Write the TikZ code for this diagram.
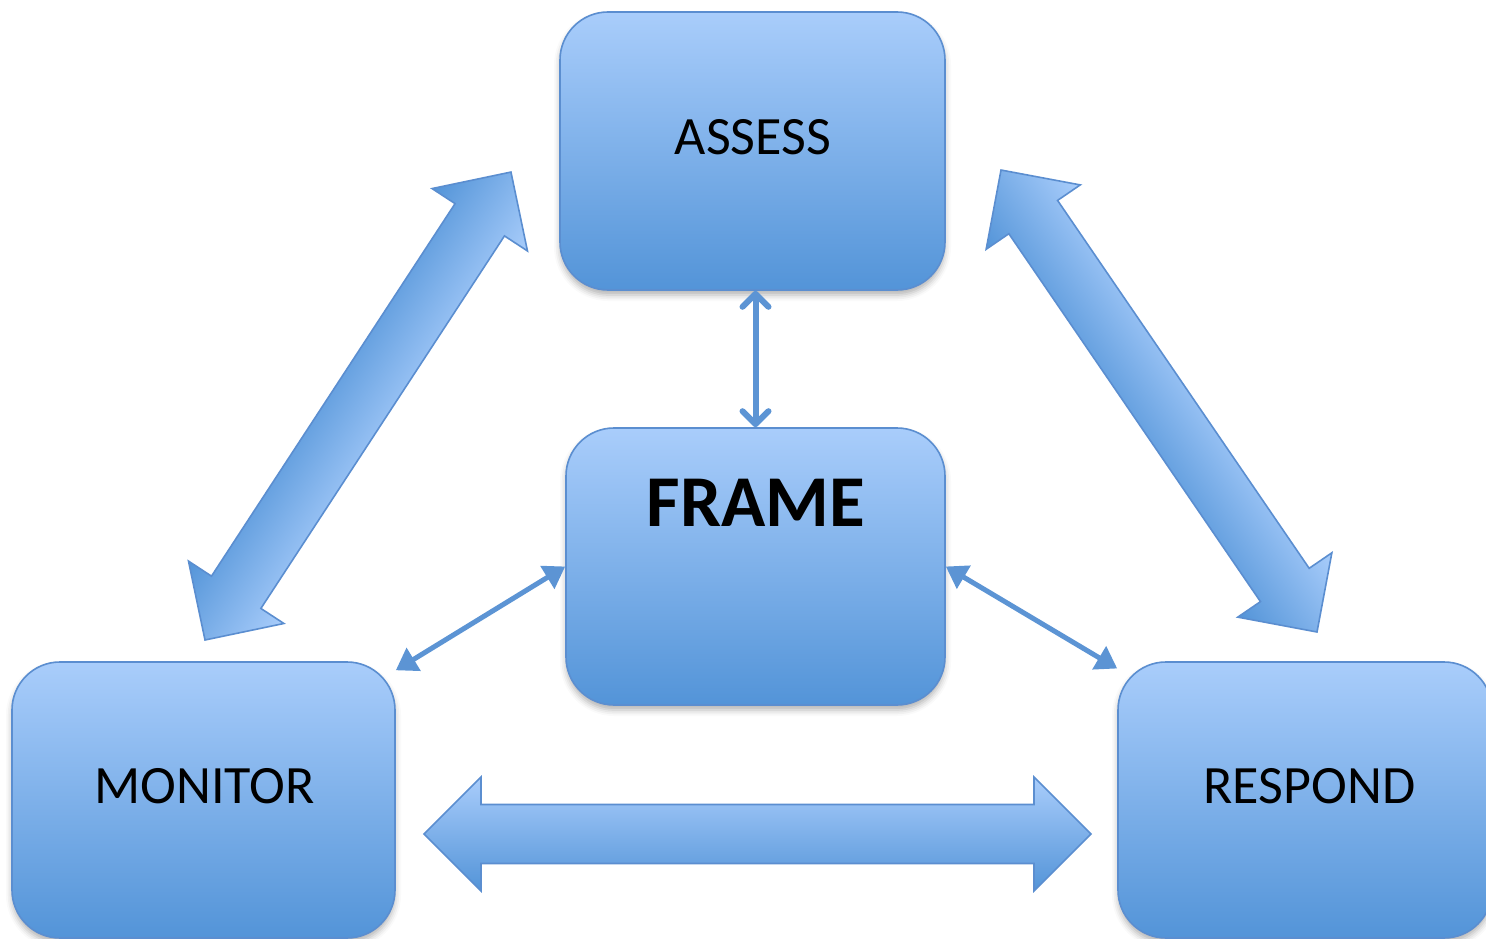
\documentclass[tikz,border=0pt]{standalone}
\usepackage{fontspec}
\setmainfont{Carlito}
\usetikzlibrary{calc,arrows.meta,shadows.blur}

\definecolor{paletop}{HTML}{A9CDFB}
\definecolor{deepblue}{HTML}{5394D8}
\definecolor{rimblue}{HTML}{5B8ED0}
\definecolor{linkblue}{HTML}{5C94D4}

\tikzset{
  stagebox/.style={draw=rimblue, line width=1.6pt, rounded corners=48pt,
    top color=paletop, bottom color=deepblue, inner sep=0pt,
    blur shadow={shadow xshift=0pt, shadow yshift=-5pt,
      shadow blur radius=6pt, shadow opacity=30}},
  stagetext/.style={inner sep=0pt, font=\fontsize{54}{60}\selectfont},
  hubtext/.style={inner sep=0pt, font=\bfseries\fontsize{73}{80}\selectfont},
  fatbody/.style={draw=rimblue, line width=1.6pt, line join=miter},
  link/.style={draw=linkblue, line width=5pt},
  barbtip/.tip={Straight Barb[length=13pt, width=26pt, line cap=round, line join=round]},
  solidtip/.tip={Triangle[length=21pt, width=26pt]},
}

% double-headed block arrow between two named tips, shaded across its body
\newcommand\fatarrow[3]{%
  \path let \p1=($(#2)-(#1)$) in \pgfextra{%
    \pgfmathsetmacro\fatlenL{veclen(\x1,\y1)}%
    \pgfmathsetmacro\fatangL{atan2(\y1,\x1)}%
    \global\let\fatlen\fatlenL \global\let\fatang\fatangL};
  \begin{scope}[transform canvas={shift={(#1)},rotate=\fatang}]
    \path[fatbody,#3] (0pt,0pt) -- (57pt,57pt) -- (57pt,29.5pt)
      -- (\fatlen pt-57pt,29.5pt) -- (\fatlen pt-57pt,57pt) -- (\fatlen pt,0pt)
      -- (\fatlen pt-57pt,-57pt) -- (\fatlen pt-57pt,-29.5pt)
      -- (57pt,-29.5pt) -- (57pt,-57pt) -- cycle;
  \end{scope}}

\begin{document}
\begin{tikzpicture}[x=1pt,y=-1pt]
  \useasboundingbox (0,0) rectangle (1486,939);

  % tips of the block arrows
  \coordinate (ml-tip) at (205,640);
  \coordinate (am-tip) at (511,172);
  \coordinate (ra-tip) at (1317,632);
  \coordinate (ar-tip) at (1001,170);
  \coordinate (mr-tip) at (424,834);
  \coordinate (rm-tip) at (1091,834);

  \fatarrow{ml-tip}{am-tip}{top color=deepblue, bottom color=paletop}
  \fatarrow{ra-tip}{ar-tip}{top color=deepblue, bottom color=paletop}
  \fatarrow{mr-tip}{rm-tip}{top color=paletop, bottom color=deepblue}

  % stage boxes
  \node[stagebox, minimum width=385pt, minimum height=278pt] (assess) at (752.5,151) {};
  \node[stagebox, minimum width=379pt, minimum height=277pt] (frame) at (755.5,566.5) {};
  \node[stagebox, minimum width=383pt, minimum height=276pt] (monitor) at (203.5,800) {};
  \node[stagebox, minimum width=374pt, minimum height=276pt] (respond) at (1305,800) {};

  \node[stagetext] (assess-label) at (753,137) {ASSESS};
  \node[hubtext] (frame-label) at (756,503) {FRAME};
  \node[stagetext] (monitor-label) at (204.5,786) {MONITOR};
  \node[stagetext] (respond-label) at (1309.5,786) {RESPOND};

  % links between FRAME and the other stages
  \draw[link, line width=6pt, barbtip-barbtip] (frame.north) -- (assess.south -| frame.north);
  \draw[link, solidtip-solidtip] (frame.west) -- (monitor.34);
  \draw[link, solidtip-solidtip] (frame.east) -- (respond.145);
\end{tikzpicture}
\end{document}
